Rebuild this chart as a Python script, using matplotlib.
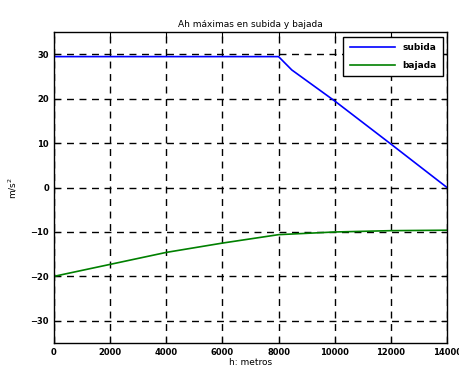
import matplotlib
matplotlib.use('Agg')
import matplotlib.pyplot as plt

# Datos
h_subida = [0, 2000, 4000, 6000, 8000, 8470, 10000, 12000, 14000]
a_subida = [29.5, 29.5, 29.5, 29.5, 29.5, 26.5, 19.5, 9.8, 0.0]

h_bajada = [0, 2000, 4000, 6000, 8000, 10000, 12000, 14000]
a_bajada = [-20.0, -17.3, -14.6, -12.5, -10.6, -10.0, -9.7, -9.6]

xticks = [0, 2000, 4000, 6000, 8000, 10000, 12000, 14000]
yticks = [-30, -20, -10, 0, 10, 20, 30]

fig = plt.figure(figsize=(4.6, 3.7), dpi=100)
ax = fig.add_axes([0.117, 0.073, 0.855, 0.84])

ax.plot(h_subida, a_subida, color='blue', linewidth=1.2, label='subida')
ax.plot(h_bajada, a_bajada, color='green', linewidth=1.2, label='bajada')

ax.set_xlim(0, 14000)
ax.set_ylim(-35, 35)
ax.set_xticks(xticks)
ax.set_yticks(yticks)
ax.tick_params(direction='in', top=True, right=True, labelsize=6, length=4)
for lab in ax.get_xticklabels() + ax.get_yticklabels():
    lab.set_fontweight('bold')
for s in ax.spines.values():
    s.set_linewidth(1.0)

ax.grid(True, color='black', linestyle=(0, (5, 4)), linewidth=1.0)

ax.set_title('Ah máximas en subida y bajada', fontsize=6.5, pad=4)
ax.set_xlabel('h: metros', fontsize=6.5, labelpad=1)
ax.set_ylabel('m/s$^2$', fontsize=6.5, labelpad=8)

leg = ax.legend(loc='upper right', prop={'size': 6.5, 'weight': 'bold'},
                fancybox=False, framealpha=1, edgecolor='black',
                handlelength=5, labelspacing=1.0, borderpad=0.7,
                borderaxespad=0.5)
leg.get_frame().set_linewidth(1.0)

plt.savefig('out.png', dpi=100)
